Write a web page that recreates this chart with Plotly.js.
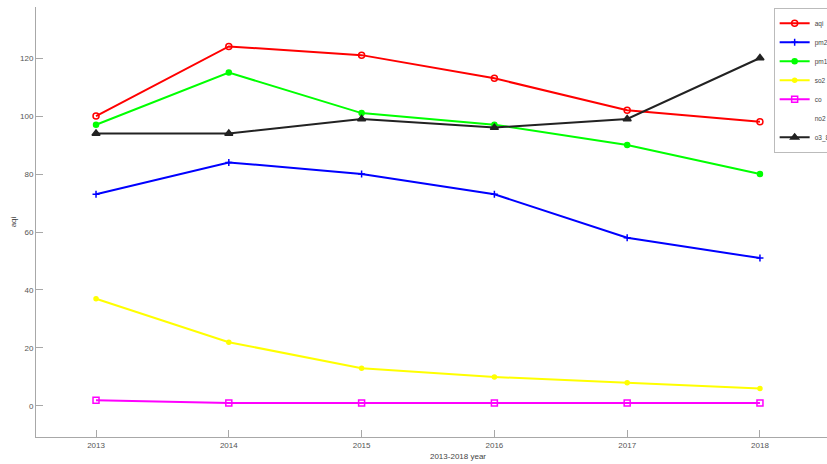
<!DOCTYPE html>
<html>
<head>
<meta charset="utf-8">
<script src="https://cdn.plot.ly/plotly-3.0.1.min.js"></script>
<style>html,body{margin:0;padding:0;background:#fff;overflow:hidden;width:827px;height:464px;}#chart{width:880px;height:464px;}</style>
</head>
<body>
<div id="chart"></div>
<script>
const years = [2013, 2014, 2015, 2016, 2017, 2018];
const aqi  = [100, 124, 121, 113, 102, 98];
const pm25 = [73, 84, 80, 73, 58, 51];
const pm10 = [97, 115, 101, 97, 90, 80];
const so2  = [37, 22, 13, 10, 8, 6];
const co   = [2, 1, 1, 1, 1, 1];
const no2  = [null, null, null, null, null, null];
const o3   = [94, 94, 99, 96, 99, 120];
const names = ['aqi', 'pm2.5', 'pm10', 'so2', 'co', 'no2', 'o3_8h'];
const yTicks = [0, 20, 40, 60, 80, 100, 120];

const series = [
  {y: aqi,  name: names[0], color: '#ff0000', symbol: 'circle-open', size: 6},
  {y: pm25, name: names[1], color: '#0000ff', symbol: 'cross-thin-open', size: 5},
  {y: pm10, name: names[2], color: '#00ff00', symbol: 'circle', size: 5},
  {y: so2,  name: names[3], color: '#ffff00', symbol: 'circle', size: 4},
  {y: co,   name: names[4], color: '#ff00ff', symbol: 'square-open', size: 6},
  {y: no2,  name: names[5], color: '#ffffff', symbol: 'circle', size: 1},
  {y: o3,   name: names[6], color: '#222222', symbol: 'triangle-up', size: 7}
];

const traces = series.map(s => ({
  x: years, y: s.y, name: s.name, type: 'scatter', mode: 'lines+markers',
  line: {color: s.color, width: 2},
  marker: {color: s.color, symbol: s.symbol, size: s.size, line: {color: s.color, width: 1.5}}
}));

// plot area spans 36..880 px; 2013 at x=96, 2018 at x=760
const layout = {
  width: 880, height: 464,
  margin: {l: 36, r: 0, t: 7, b: 27},
  paper_bgcolor: '#ffffff', plot_bgcolor: '#ffffff',
  font: {family: 'Liberation Sans, Arial, sans-serif', size: 8, color: '#555'},
  showlegend: true,
  legend: {
    x: 0.874, y: 0.998, xanchor: 'left', yanchor: 'top',
    bgcolor: '#ffffff', bordercolor: '#bbbbbb', borderwidth: 1,
    font: {size: 6.5, color: '#444'}, tracegroupgap: 0, itemwidth: 30
  },
  xaxis: {
    range: [2012.548, 2018.904], tickvals: years, ticktext: years.map(String),
    showline: true, linecolor: '#a8a8a8', linewidth: 1,
    ticks: 'inside', ticklen: 7, tickcolor: '#a8a8a8',
    showgrid: false, zeroline: false,
    tickfont: {size: 8, color: '#555'},
    title: {text: '2013-2018 year', font: {size: 8, color: '#444'}, standoff: 4}
  },
  yaxis: {
    range: [-10.7, 137.6], tickvals: yTicks,
    showline: true, linecolor: '#a8a8a8', linewidth: 1,
    ticks: 'inside', ticklen: 7, tickcolor: '#a8a8a8',
    showgrid: false, zeroline: false,
    tickfont: {size: 8, color: '#555'},
    title: {text: 'aqi', font: {size: 8, color: '#444'}, standoff: 2}
  }
};

Plotly.newPlot('chart', traces, layout, {displayModeBar: false, staticPlot: true});
</script>
</body>
</html>
